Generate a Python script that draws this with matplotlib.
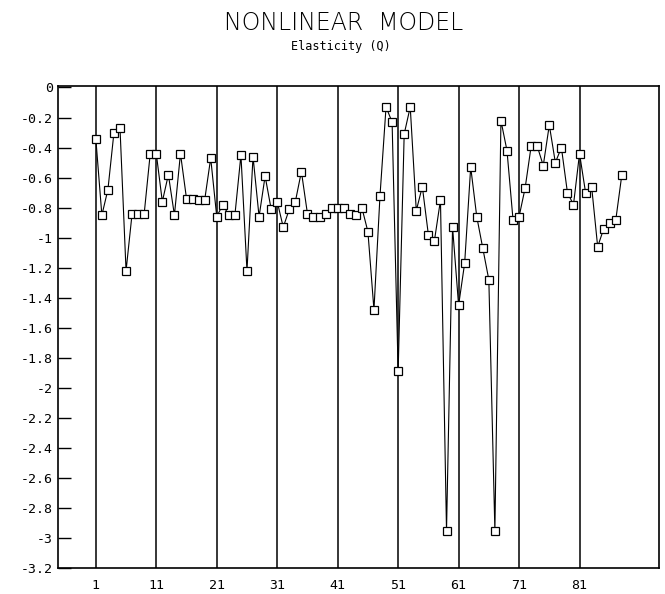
import numpy as np
import matplotlib.pyplot as plt

# elasticity values, observations 1..88
elasticity = [-0.34, -0.85, -0.68, -0.30, -0.27, -1.22, -0.84, -0.84, -0.84, -0.44,
              -0.44, -0.76, -0.58, -0.85, -0.44, -0.74, -0.74, -0.75, -0.75, -0.47,
              -0.86, -0.78, -0.85, -0.85, -0.45, -1.22, -0.46, -0.86, -0.59, -0.81,
              -0.76, -0.93, -0.81, -0.76, -0.56, -0.84, -0.86, -0.86, -0.84, -0.80,
              -0.80, -0.80, -0.84, -0.85, -0.80, -0.96, -1.48, -0.72, -0.13, -0.23,
              -1.89, -0.31, -0.13, -0.82, -0.66, -0.98, -1.02, -0.75, -2.95, -0.93,
              -1.45, -1.17, -0.53, -0.86, -1.07, -1.28, -2.95, -0.22, -0.42, -0.88,
              -0.86, -0.67, -0.39, -0.39, -0.52, -0.25, -0.50, -0.40, -0.70, -0.78,
              -0.44, -0.70, -0.66, -1.06, -0.94, -0.90, -0.88, -0.58]
obs = np.arange(1, len(elasticity) + 1)
xticks = [1, 11, 21, 31, 41, 51, 61, 71, 81]
yticks = np.round(np.arange(0, -3.21, -0.2), 1)

fig = plt.figure(figsize=(6.65, 5.94), dpi=100)
ax = fig.add_axes([0.0868, 0.0433, 0.9047, 0.812])

for xv in xticks:
    ax.axvline(xv, color='black', linewidth=1.1, zorder=1)

ax.plot(obs, elasticity, color='black', linewidth=0.8, marker='s', markersize=6,
        markerfacecolor='white', markeredgecolor='black', markeredgewidth=0.9, zorder=2)

ax.set_xlim(-5.3, 94.2)
ax.set_ylim(-3.2, 0.01)
ax.set_xticks(xticks)
ax.set_xticklabels([str(v) for v in xticks], family='DejaVu Sans Mono', fontsize=9.5)
ax.set_yticks(yticks)
ax.set_yticklabels(['%g' % v for v in yticks], family='DejaVu Sans Mono', fontsize=9.5)
ax.tick_params(axis='y', direction='in', length=9, width=1)
ax.tick_params(axis='x', length=0, pad=8)
for s in ax.spines.values():
    s.set_linewidth(1.2)

fig.text(0.517, 0.962, 'NONLINEAR  MODEL', ha='center', va='center', fontsize=17,
         family='DejaVu Sans', fontweight='light')
fig.text(0.513, 0.922, 'Elasticity (Q)', ha='center', va='center', fontsize=8.5,
         family='DejaVu Sans Mono')

plt.savefig('out.png', dpi=100)
